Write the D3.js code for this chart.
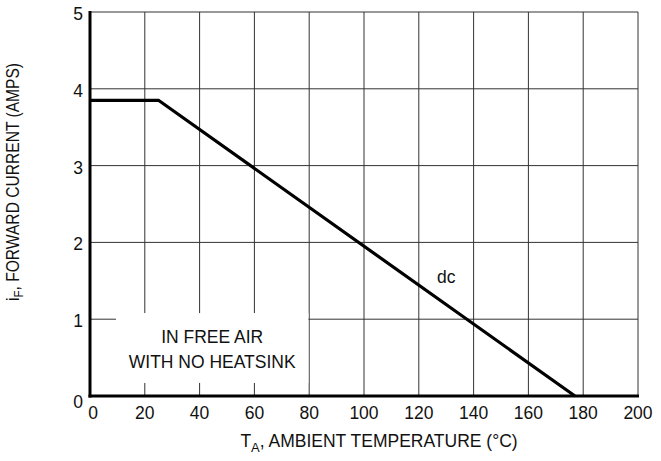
<!DOCTYPE html>
<html><head><meta charset="utf-8">
<script src="https://cdn.jsdelivr.net/npm/d3@7"></script>
<style>body{margin:0;background:#fff}text{font-family:"Liberation Sans",Arial,sans-serif;fill:#111}</style>
</head><body><svg id="c" width="661" height="461"></svg>
<script>
const xTicks = [0,20,40,60,80,100,120,140,160,180,200];
const yTicks = [0,1,2,3,4,5];
const temps = [0, 25, 177];
const currents = [3.85, 3.85, 0];
const noteLines = ["IN FREE AIR","WITH NO HEATSINK"];
const curveLabel = "dc";

const m = {l:90, r:638, t:12, b:396};
const svg = d3.select("#c");
const x = d3.scaleLinear().domain([0,200]).range([m.l,m.r]);
const y = d3.scaleLinear().domain([0,5]).range([m.b,m.t]);
const FS = 17.5;

// grid
svg.append("g").selectAll("line").data(xTicks.slice(1)).join("line")
  .attr("x1",d=>x(d)).attr("x2",d=>x(d)).attr("y1",m.t).attr("y2",m.b)
  .attr("stroke","#333").attr("stroke-width",1);
svg.append("g").selectAll("line").data(yTicks.slice(1)).join("line")
  .attr("x1",m.l).attr("x2",m.r).attr("y1",d=>y(d)).attr("y2",d=>y(d))
  .attr("stroke","#333").attr("stroke-width",1);

// note box
const bx0 = x(9.5), bx1 = x(79.7), by0 = y(1.08), by1 = y(0.17);
svg.append("rect").attr("x",bx0).attr("y",by0).attr("width",bx1-bx0).attr("height",by1-by0).attr("fill","#fff");
svg.append("g").selectAll("text").data(noteLines).join("text")
  .attr("x",(bx0+bx1)/2).attr("y",(d,i)=>by0+30+i*25).attr("text-anchor","middle")
  .attr("font-size",FS).text(d=>d);

// axes
svg.append("line").attr("x1",m.l).attr("x2",m.l).attr("y1",m.t-1).attr("y2",m.b+1.5).attr("stroke","#000").attr("stroke-width",3);
svg.append("line").attr("x1",m.l-1.5).attr("x2",m.r+1).attr("y1",m.b).attr("y2",m.b).attr("stroke","#000").attr("stroke-width",3);

// curve
svg.append("path").datum(temps.map((t,i)=>[t,currents[i]]))
  .attr("d",d3.line().x(d=>x(d[0])).y(d=>y(d[1])))
  .attr("fill","none").attr("stroke","#000").attr("stroke-width",3.2).attr("stroke-linejoin","miter");

svg.append("text").attr("x",x(130)).attr("y",y(1.47)).attr("text-anchor","middle").attr("font-size",FS).text(curveLabel);

// tick labels
svg.append("g").selectAll("text").data(xTicks).join("text")
  .attr("x",d=>x(d)+(d===0?3:0)).attr("y",m.b+23).attr("text-anchor","middle").attr("font-size",FS).text(d=>d);
svg.append("g").selectAll("text").data(yTicks).join("text")
  .attr("x",m.l-12).attr("y",d=>y(d)+(d===0?12:8)).attr("text-anchor","middle").attr("font-size",FS).text(d=>d);

// axis titles
const xt = svg.append("text").attr("x",379).attr("y",447).attr("text-anchor","middle").attr("font-size",FS);
xt.append("tspan").text("T");
xt.append("tspan").attr("font-size",13).attr("dy",5).text("A");
xt.append("tspan").attr("dy",-5).text(", AMBIENT TEMPERATURE (°C)");

const yt = svg.append("text").attr("transform","translate(19,182) rotate(-90)").attr("text-anchor","middle").attr("font-size",FS).attr("textLength",238).attr("lengthAdjust","spacingAndGlyphs");
yt.append("tspan").text("i");
yt.append("tspan").attr("font-size",13).attr("dy",4).text("F");
yt.append("tspan").attr("dy",-4).text(", FORWARD CURRENT (AMPS)");
</script></body></html>
